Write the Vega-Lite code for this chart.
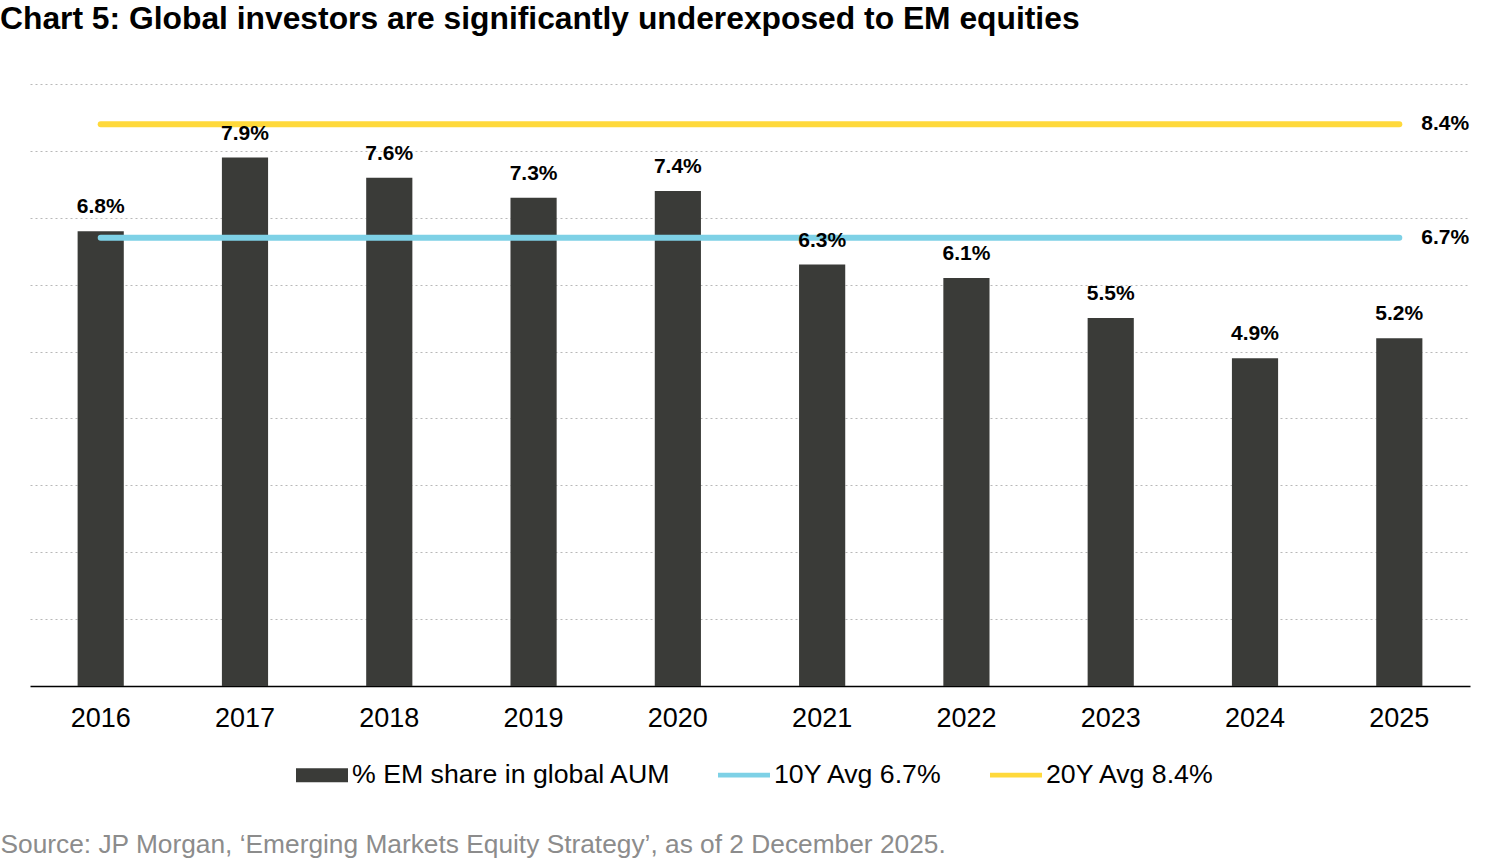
{
  "$schema": "https://vega.github.io/schema/vega-lite/v6.json",
  "background": "white",
  "padding": {"left": 0, "right": 30, "top": 4, "bottom": 0},
  "width": 1440,
  "height": 602,
  "title": {
    "text": "Chart 5: Global investors are significantly underexposed to EM equities",
    "anchor": "start",
    "font": "Liberation Sans",
    "fontSize": 31.8,
    "fontWeight": "bold",
    "color": "#000000",
    "offset": 48
  },
  "datasets": {
    "share": [
      {"year": "2016", "value": 6.8, "label": "6.8%", "series": "% EM share in global AUM"},
      {"year": "2017", "value": 7.9, "label": "7.9%", "series": "% EM share in global AUM"},
      {"year": "2018", "value": 7.6, "label": "7.6%", "series": "% EM share in global AUM"},
      {"year": "2019", "value": 7.3, "label": "7.3%", "series": "% EM share in global AUM"},
      {"year": "2020", "value": 7.4, "label": "7.4%", "series": "% EM share in global AUM"},
      {"year": "2021", "value": 6.3, "label": "6.3%", "series": "% EM share in global AUM"},
      {"year": "2022", "value": 6.1, "label": "6.1%", "series": "% EM share in global AUM"},
      {"year": "2023", "value": 5.5, "label": "5.5%", "series": "% EM share in global AUM"},
      {"year": "2024", "value": 4.9, "label": "4.9%", "series": "% EM share in global AUM"},
      {"year": "2025", "value": 5.2, "label": "5.2%", "series": "% EM share in global AUM"}
    ],
    "averages": [
      {"year": "2016", "value": 6.7, "label": "6.7%", "series": "10Y Avg 6.7%"},
      {"year": "2025", "value": 6.7, "label": "6.7%", "series": "10Y Avg 6.7%"},
      {"year": "2016", "value": 8.4, "label": "8.4%", "series": "20Y Avg 8.4%"},
      {"year": "2025", "value": 8.4, "label": "8.4%", "series": "20Y Avg 8.4%"}
    ]
  },
  "encoding": {
    "x": {
      "field": "year",
      "type": "ordinal",
      "scale": {
        "domain": ["2016", "2017", "2018", "2019", "2020", "2021", "2022", "2023", "2024", "2025"],
        "paddingInner": 0.68,
        "paddingOuter": 0.33
      },
      "axis": {
        "title": "Source: JP Morgan, ‘Emerging Markets Equity Strategy’, as of 2 December 2025.",
        "titleFont": "Liberation Sans",
        "titleFontSize": 26.3,
        "titleFontWeight": "normal",
        "titleColor": "#8c8c8c",
        "titleAnchor": "start",
        "titleAlign": "left",
        "titleBaseline": "middle",
        "titleX": -30,
        "titleY": 158,
        "labelAngle": 0,
        "labelFontSize": 27,
        "labelColor": "#000000",
        "labelPadding": 19,
        "ticks": false,
        "domainColor": "#000000",
        "domainWidth": 1.5,
        "grid": false
      }
    },
    "y": {
      "field": "value",
      "type": "quantitative",
      "scale": {"domain": [0, 9], "nice": false},
      "axis": {
        "title": null,
        "labels": false,
        "ticks": false,
        "domain": false,
        "values": [1, 2, 3, 4, 5, 6, 7, 8, 9],
        "grid": true,
        "gridColor": "#b8b8b8",
        "gridDash": [2, 3],
        "gridWidth": 1
      }
    }
  },
  "layer": [
    {
      "data": {"name": "share"},
      "mark": {"type": "bar"},
      "encoding": {
        "color": {
          "field": "series",
          "type": "nominal",
          "scale": {
            "domain": ["% EM share in global AUM", "10Y Avg 6.7%", "20Y Avg 8.4%"],
            "range": ["#3a3b38", "#7ed1e6", "#ffd93b"]
          },
          "legend": {
            "title": null,
            "orient": "none",
            "direction": "horizontal",
            "legendX": 266,
            "legendY": 665,
            "labelFontSize": 26.7,
            "labelColor": "#000000",
            "labelFont": "Liberation Sans",
            "labelOffset": 4,
            "labelLimit": 0,
            "columnPadding": 47,
            "symbolSize": 2704,
            "symbolStrokeWidth": 0,
            "encode": {
              "symbols": {
                "update": {
                  "shape": {"signal": "datum.value === '% EM share in global AUM' ? 'M-1,-0.27H1V0.27H-1Z' : 'M-1,-0.09H1V0.09H-1Z'"},
                  "fill": {"scale": "color", "field": "value"},
                  "fillOpacity": {"value": 1},
                  "strokeWidth": {"value": 0}
                }
              }
            }
          }
        }
      }
    },
    {
      "data": {"name": "averages"},
      "mark": {"type": "line", "strokeWidth": 6, "strokeCap": "round"},
      "encoding": {
        "color": {"field": "series", "type": "nominal"}
      }
    },
    {
      "data": {"name": "share"},
      "mark": {"type": "text", "baseline": "bottom", "dy": -14, "fontSize": 21, "fontWeight": "bold", "font": "Liberation Sans", "color": "#000000"},
      "encoding": {
        "text": {"field": "label"}
      }
    },
    {
      "data": {"name": "averages"},
      "transform": [{"filter": "datum.year === '2025'"}],
      "mark": {"type": "text", "align": "left", "baseline": "middle", "dx": 22, "fontSize": 21, "fontWeight": "bold", "font": "Liberation Sans", "color": "#000000"},
      "encoding": {
        "text": {"field": "label"}
      }
    }
  ],
  "config": {
    "view": {"stroke": null},
    "font": "Liberation Sans"
  }
}
